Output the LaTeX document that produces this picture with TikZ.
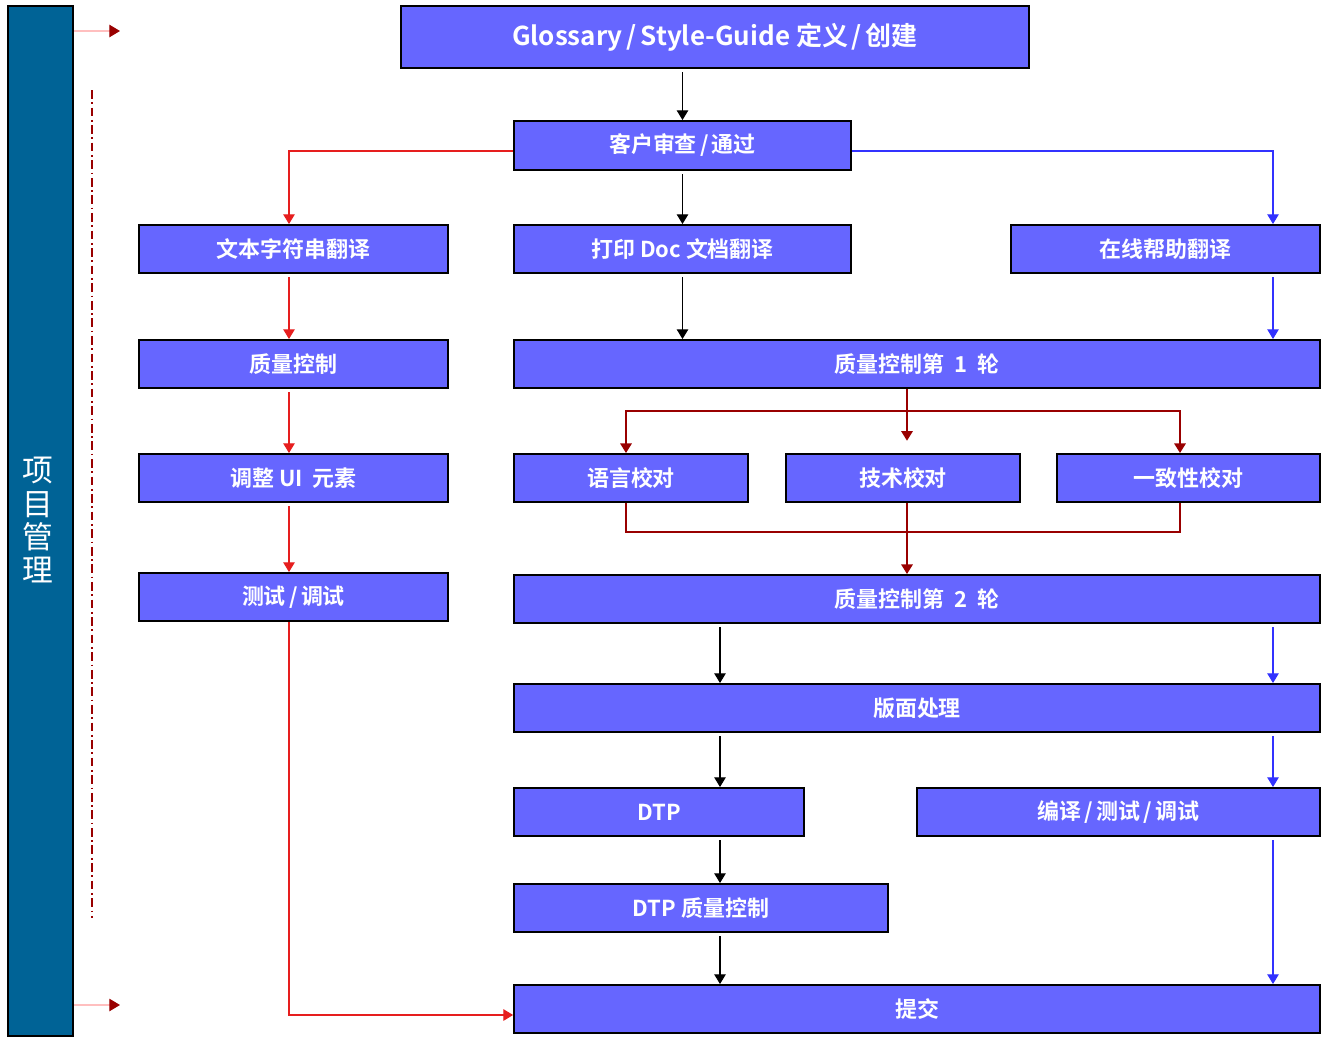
\documentclass[tikz,border=0pt]{standalone}
\usepackage{fontspec}
\setmainfont{Noto Sans CJK SC}[BoldFont={Noto Sans CJK SC Bold}]
\usetikzlibrary{arrows.meta}
\definecolor{boxblue}{RGB}{102,102,255}
\definecolor{pmblue}{RGB}{0,99,150}
\definecolor{darkred}{RGB}{153,0,0}
\definecolor{linered}{RGB}{230,30,30}
\definecolor{lineblue}{RGB}{50,50,255}
\newcommand{\fsl}{\hspace{0.15em}/\hspace{0.15em}}

\begin{document}
\begin{tikzpicture}[x=0.02cm, y=-0.02cm]
    \useasboundingbox (0,0) rectangle (1322,1038);

    % project management bar
    \node[draw=black, line width=1.5pt, fill=pmblue, minimum width=1.3cm, minimum height=20.6cm, inner sep=0pt] (pm) at (40.5,521) {};
    \node[text=white, align=center, font=\fontsize{17.5}{18.8}\selectfont] (pmtext) at (38,520) {项\\目\\管\\理};

    \begin{scope}[every node/.style={draw=black, line width=1.1pt, fill=boxblue, text=white, font=\bfseries\fontsize{12.5}{14}\selectfont, minimum height=0.96cm, inner sep=0pt}]
        \node[minimum width=12.56cm, minimum height=1.24cm, font=\bfseries\fontsize{14.8}{16}\selectfont] (glossary) at (715,37) {Glossary\fsl Style-Guide 定义\fsl 创建};
        \node[minimum width=6.74cm, minimum height=0.98cm] (kehu) at (682.5,145.5) {客户审查\fsl 通过};
        \node[minimum width=6.18cm] (wenben) at (293.5,249) {文本字符串翻译};
        \node[minimum width=6.74cm] (dayin) at (682.5,249) {打印 Doc 文档翻译};
        \node[minimum width=6.18cm] (zaixian) at (1165.5,249) {在线帮助翻译};
        \node[minimum width=6.18cm] (zhiliang) at (293.5,364) {质量控制};
        \node[minimum width=16.12cm] (qcone) at (917,364) {质量控制第\ \ 1\ \ 轮};
        \node[minimum width=6.18cm] (tiaozheng) at (293.5,478) {调整 UI\ \ 元素};
        \node[minimum width=4.68cm] (yuyan) at (631,478) {语言校对};
        \node[minimum width=4.68cm] (jishu) at (903,478) {技术校对};
        \node[minimum width=5.26cm] (yizhi) at (1188.5,478) {一致性校对};
        \node[minimum width=6.18cm] (ceshi) at (293.5,597) {测试\fsl 调试};
        \node[minimum width=16.12cm] (qctwo) at (917,599) {质量控制第\ \ 2\ \ 轮};
        \node[minimum width=16.12cm] (banmian) at (917,708) {版面处理};
        \node[minimum width=5.8cm] (dtp) at (659,812) {DTP};
        \node[minimum width=8.06cm] (bianyi) at (1118.5,812) {编译\fsl 测试\fsl 调试};
        \node[minimum width=7.48cm] (dtpqc) at (701,908) {DTP 质量控制};
        \node[minimum width=16.12cm] (tijiao) at (917,1009) {提交};
    \end{scope}

    % columns of the connectors
    \coordinate (cL) at (289,0);
    \coordinate (cR) at (1273,0);
    \coordinate (cD) at (720,0);
    \coordinate (cQ) at (907,0);
    \coordinate (cA) at (626,0);
    \coordinate (cC) at (1180,0);
    \coordinate (hk) at (0,151);
    \coordinate (hs) at (0,1015);
    \coordinate (qtop) at (907,411);
    \coordinate (qbot) at (907,532);
    \coordinate (pmtop) at (120,31);
    \coordinate (pmbot) at (120,1005);
    \coordinate (dashtop) at (92,90);
    \coordinate (dashbot) at (92,918);

    \draw[darkred, line width=1pt, dash pattern=on 5pt off 2pt on 1pt off 2pt] (dashtop) -- (dashbot);

    \begin{scope}[>={Triangle[length=6pt, width=7pt, color=darkred]}, red!25, line width=0.6pt]
        \draw[->] (pm.east |- pmtop) -- (pmtop);
        \draw[->] (pm.east |- pmbot) -- (pmbot);
    \end{scope}

    \begin{scope}[>={Triangle[length=5.5pt, width=6.5pt]}, line width=0.6pt, shorten <=2pt]
        \draw[->] (kehu.north |- glossary.south) -- (kehu.north);
        \draw[->] (kehu.south) -- (dayin.north);
        \draw[->] (dayin.south) -- (dayin.south |- qcone.north);
        \draw[->] (cD |- qctwo.south) -- (cD |- banmian.north);
        \draw[->] (cD |- banmian.south) -- (cD |- dtp.north);
        \draw[->] (cD |- dtp.south) -- (cD |- dtpqc.north);
        \draw[->] (cD |- dtpqc.south) -- (cD |- tijiao.north);
    \end{scope}

    \begin{scope}[>={Triangle[length=5.5pt, width=6.5pt]}, linered, line width=0.6pt]
        \draw[->] (kehu.west |- hk) -| (cL |- wenben.north);
        \draw[->, shorten <=2pt] (cL |- wenben.south) -- (cL |- zhiliang.north);
        \draw[->, shorten <=2pt] (cL |- zhiliang.south) -- (cL |- tiaozheng.north);
        \draw[->, shorten <=2pt] (cL |- tiaozheng.south) -- (cL |- ceshi.north);
        \draw[->] (cL |- ceshi.south) |- (tijiao.west |- hs);
    \end{scope}

    \begin{scope}[>={Triangle[length=5.5pt, width=6.5pt]}, lineblue, line width=0.6pt]
        \draw[->] (kehu.east |- hk) -| (cR |- zaixian.north);
        \draw[->, shorten <=2pt] (cR |- zaixian.south) -- (cR |- qcone.north);
        \draw[->, shorten <=2pt] (cR |- qctwo.south) -- (cR |- banmian.north);
        \draw[->, shorten <=2pt] (cR |- banmian.south) -- (cR |- bianyi.north);
        \draw[->, shorten <=2pt] (cR |- bianyi.south) -- (cR |- tijiao.north);
    \end{scope}

    \begin{scope}[>={Triangle[length=5.5pt, width=6.5pt]}, darkred, line width=1.1pt]
        \draw[->, shorten >=7pt] (cQ |- qcone.south) -- (cQ |- jishu.north);
        \draw[->] (qtop) -| (cA |- yuyan.north);
        \draw[->] (qtop) -| (cC |- yizhi.north);
        \draw (cA |- yuyan.south) |- (qbot) -| (cC |- yizhi.south);
        \draw[->] (cQ |- jishu.south) -- (cQ |- qctwo.north);
    \end{scope}
\end{tikzpicture}
\end{document}
